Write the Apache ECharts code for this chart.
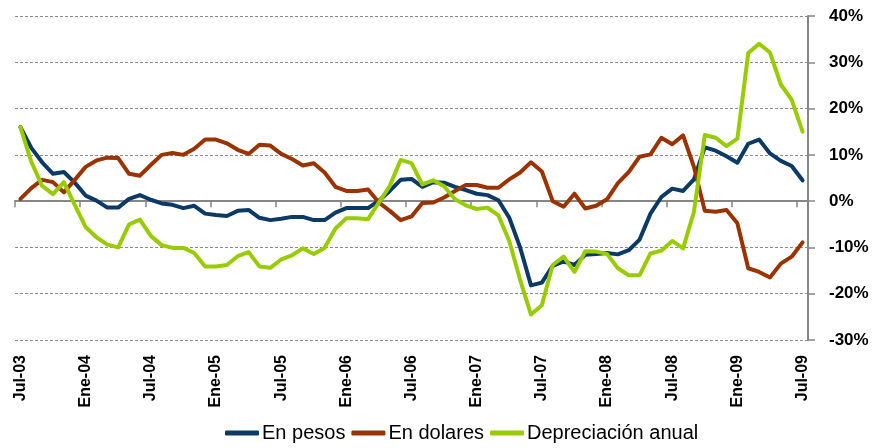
<!DOCTYPE html>
<html><head><meta charset="utf-8">
<script src="https://cdn.jsdelivr.net/npm/echarts@6/dist/echarts.min.js"></script>
<style>html,body{margin:0;padding:0;background:#fff}#c{width:878px;height:448px}</style>
</head><body><div id="c"></div>
<script>
// month labels (Spanish abbreviations), monthly from Jul-03 to Jul-09
const monthNames = ['Ene','Feb','Mar','Abr','May','Jun','Jul','Ago','Sep','Oct','Nov','Dic'];
const categories = [];
(function(){ let m = 6, y = 3; while (categories.length < 73) { categories.push(monthNames[m] + '-' + String(y).padStart(2,'0')); m++; if (m === 12) { m = 0; y++; } } })();

const seriesNames = ['En pesos', 'En dolares', 'Depreciación anual'];

const enPesos = [16, 11.5, 8.4, 5.9, 6.3, 4.0, 1.2, 0.1, -1.4, -1.4,
  0.5, 1.3, 0.3, -0.5, -0.8, -1.5, -1.0, -2.7, -3.0, -3.2,
  -2.1, -1.9, -3.6, -4.1, -3.8, -3.4, -3.4, -4.1, -4.1, -2.5,
  -1.5, -1.5, -1.5, 0.1, 2.2, 4.6, 4.8, 3.1, 4.1, 4.0,
  3.1, 2.4, 1.6, 1.3, 0.2, -3.6, -10.0, -18.2, -17.6, -14.0,
  -13.0, -13.8, -11.6, -11.4, -11.2, -11.5, -10.6, -8.3, -2.7, 0.9,
  2.7, 2.2, 4.7, 11.6, 10.9, 9.7, 8.3, 12.4, 13.3, 10.3,
  8.7, 7.6, 4.5];

const enDolares = [0.5, 2.8, 4.6, 4.1, 1.9, 4.6, 7.4, 8.8, 9.4, 9.3,
  5.9, 5.5, 7.8, 10.0, 10.4, 10.0, 11.3, 13.3, 13.3, 12.5,
  11.1, 10.2, 12.2, 12.0, 10.2, 9.1, 7.7, 8.2, 6.2, 3.1,
  2.2, 2.2, 2.5, -0.3, -2.1, -4.1, -3.3, -0.4, -0.3, 0.8,
  2.2, 3.5, 3.5, 2.9, 2.9, 4.7, 6.2, 8.4, 6.4, 0.0,
  -1.2, 1.6, -1.6, -1.0, 0.4, 3.9, 6.3, 9.6, 10.1, 13.7,
  12.3, 14.2, 7.4, -2.1, -2.3, -1.9, -4.8, -14.5, -15.3, -16.5,
  -13.5, -12.0, -8.9];

const depreciacion = [16, 8.5, 3.3, 1.5, 4.1, -0.8, -5.6, -7.8, -9.4, -10.0,
  -5.0, -4.0, -7.5, -9.5, -10.1, -10.1, -11.2, -14.1, -14.1, -13.8,
  -11.9, -11.0, -14.1, -14.4, -12.6, -11.7, -10.2, -11.4, -10.1, -5.9,
  -3.7, -3.7, -3.9, -0.3, 3.3, 8.9, 8.2, 3.6, 4.5, 3.2,
  0.4, -0.9, -1.7, -1.4, -3.1, -8.6, -17.0, -24.5, -22.5, -13.8,
  -12.0, -15.3, -10.8, -10.9, -11.4, -14.5, -16.0, -16.0, -11.3, -10.7,
  -8.6, -10.2, -2.3, 14.3, 13.7, 11.9, 13.5, 32.0, 34.0, 32.1,
  25.2, 21.9, 15.0];

const colors = ['#0b3a67', '#9a3300', '#99cc00'];
const FONT = "'Liberation Sans', Arial, sans-serif";

const chart = echarts.init(document.getElementById('c'), null, {renderer: 'canvas'});
const mk = (name, data, i) => ({
  name, type: 'line', data, xAxisIndex: 0, yAxisIndex: 0,
  symbol: 'none', showSymbol: false, smooth: false,
  lineStyle: {color: colors[i], width: 4, cap: 'round', join: 'round'},
  itemStyle: {color: colors[i]},
  z: 3 + i
});
chart.setOption({
  animation: false,
  color: colors,
  grid: {left: 15, right: 70, top: 16, bottom: 108, containLabel: false, outerBoundsMode: 'none'},
  legend: {
    bottom: 0, left: 220,
    data: seriesNames,
    icon: 'roundRect', itemWidth: 34, itemHeight: 5, itemGap: 6,
    textStyle: {fontFamily: FONT, fontSize: 20, color: '#000', padding: [0,0,0,-2]}
  },
  xAxis: [{
    type: 'category', data: categories, boundaryGap: true, position: 'bottom',
    axisLine: {show: false, onZero: false},
    axisTick: {show: false},
    axisLabel: {interval: 5, rotate: 90, margin: 15, fontFamily: FONT, fontWeight: 'bold', fontSize: 16, color: '#000'},
    splitLine: {show: false}
  }, {
    type: 'category', data: categories, boundaryGap: true, position: 'bottom',
    axisLine: {show: true, onZero: true, lineStyle: {color: '#868686', width: 2}},
    axisTick: {show: true, interval: 5, length: 6, inside: false, lineStyle: {color: '#868686', width: 1.5}},
    axisLabel: {show: false},
    splitLine: {show: false}
  }],
  yAxis: {
    type: 'value', position: 'right', min: -30, max: 40, interval: 10,
    axisLine: {show: true, lineStyle: {color: '#868686', width: 2}},
    axisTick: {show: true, length: 7, inside: false, lineStyle: {color: '#868686', width: 1.5}},
    axisLabel: {formatter: '{value}%', margin: 21, fontFamily: FONT, fontWeight: 'bold', fontSize: 17, color: '#000', align: 'left'},
    splitLine: {show: true, lineStyle: {color: '#8c8c8c', width: 1, type: [3, 2]}}
  },
  series: [mk(seriesNames[0], enPesos, 0), mk(seriesNames[1], enDolares, 1), mk(seriesNames[2], depreciacion, 2)]
});
</script></body></html>
